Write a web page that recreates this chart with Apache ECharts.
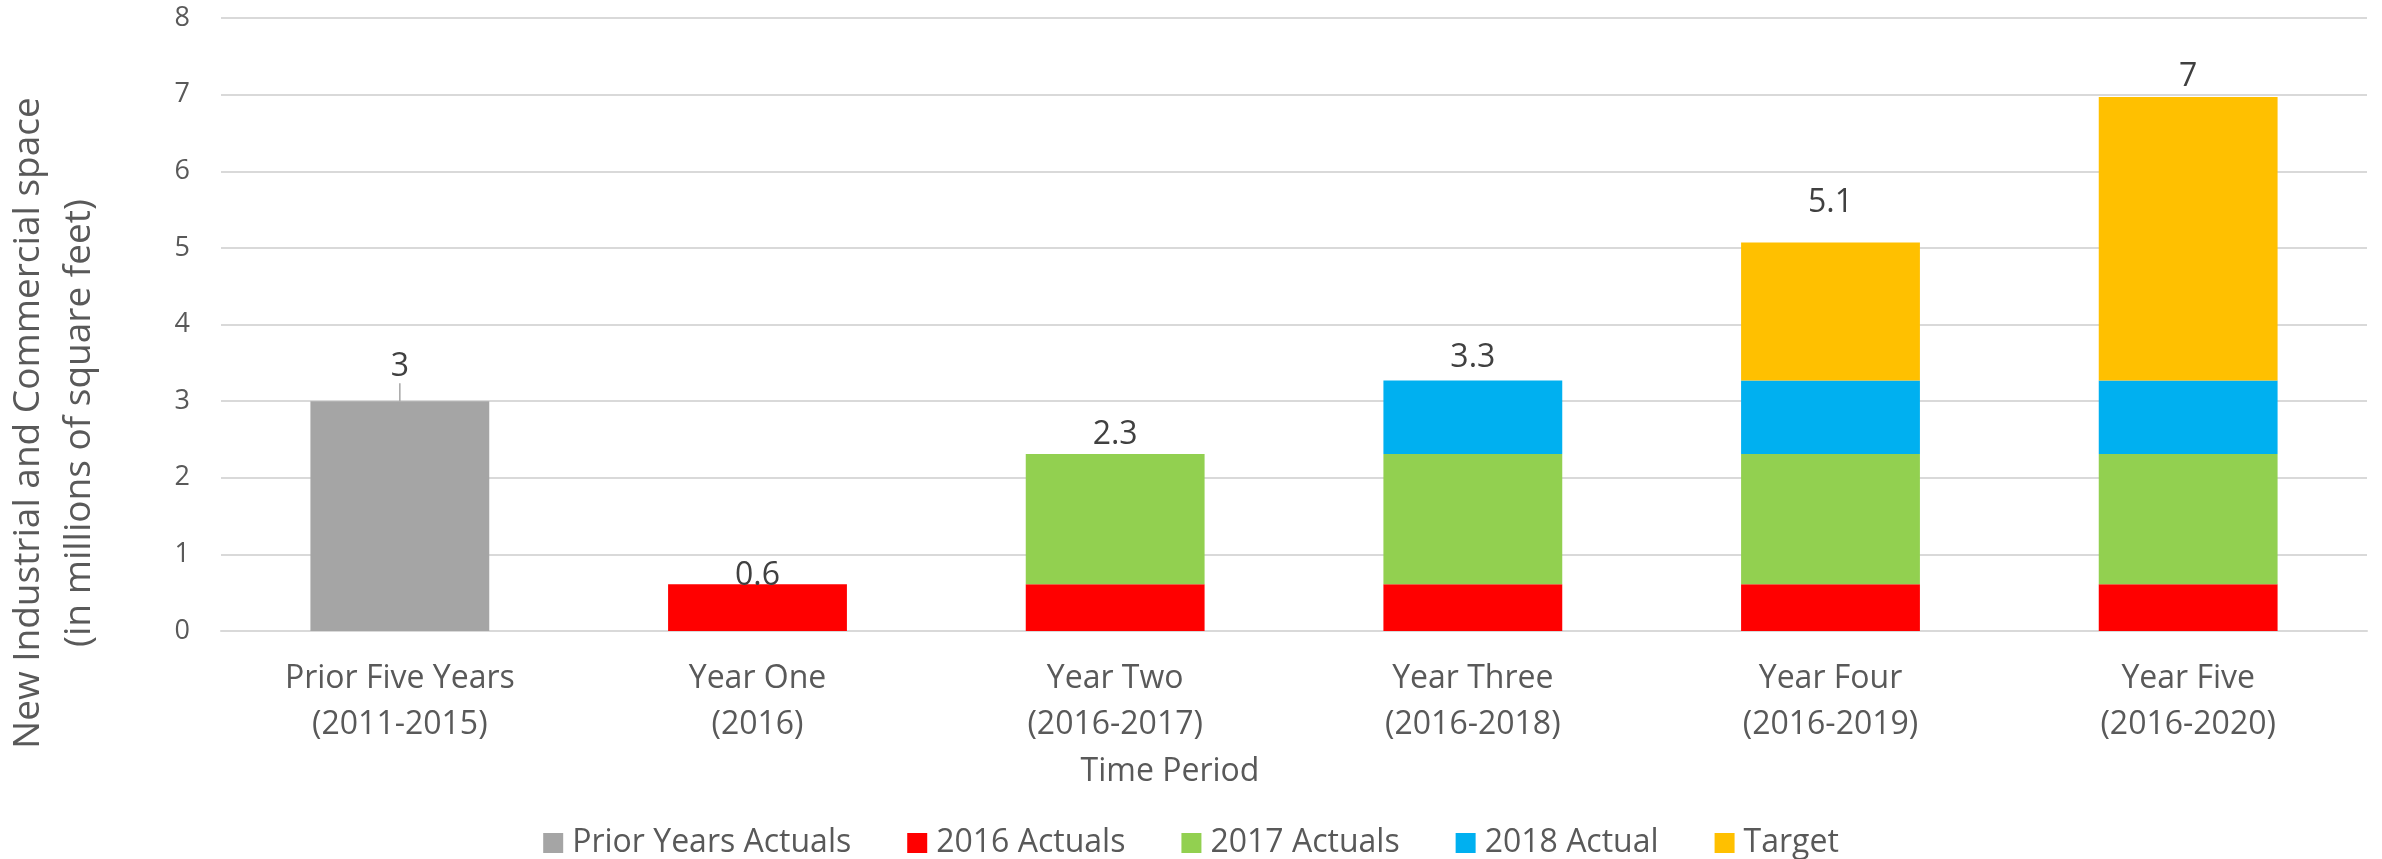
<!DOCTYPE html>
<html>
<head>
<meta charset="utf-8">
<script src="https://cdn.jsdelivr.net/npm/echarts@6/dist/echarts.min.js"></script>
<style>
html,body{margin:0;padding:0;background:#fff;}
#chart{width:2382px;height:859px;}
</style>
</head>
<body>
<div id="chart"></div>
<script>
const categories = ['Prior Five Years\n(2011-2015)', 'Year One\n(2016)', 'Year Two\n(2016-2017)', 'Year Three\n(2016-2018)', 'Year Four\n(2016-2019)', 'Year Five\n(2016-2020)'];
const seriesNames = ['Prior Years Actuals', '2016 Actuals', '2017 Actuals', '2018 Actual', 'Target'];
const priorYearsActuals = [3, null, null, null, null, null];
const actuals2016 = [null, 0.61, 0.61, 0.61, 0.61, 0.61];
const actuals2017 = [null, null, 1.7, 1.7, 1.7, 1.7];
const actual2018 = [null, null, null, 0.96, 0.96, 0.96];
const target = [null, null, null, null, 1.8, 3.7];
const totalLabels = ['3', '0.6', '2.3', '3.3', '5.1', '7'];
const yMin = 0, yMax = 8, yInterval = 1;

// label placement (style only)
const labelDistance = [5, -8, 3, 7, 24, 4];

const colors = ['#A5A5A5', '#FF0000', '#92D050', '#00B0F0', '#FFC000'];
const FONT = '"Open Sans", sans-serif';
const values = [priorYearsActuals, actuals2016, actuals2017, actual2018, target];

const topIdx = categories.map((c, i) => {
  let t = -1;
  values.forEach((v, s) => { if (v[i] != null) t = s; });
  return t;
});

const series = values.map((vals, s) => ({
  name: seriesNames[s],
  type: 'bar',
  stack: 'total',
  barWidth: '50%',
  itemStyle: { color: colors[s] },
  labelLine: { show: s === 0, lineStyle: { color: '#A6A6A6', width: 1.5 } },
  labelLayout: function (p) {
    if (s === 0 && p.dataIndex === 0) return { dy: -13 };
    return {};
  },
  data: vals.map((v, i) => {
    if (v == null) return '-';
    if (topIdx[i] === s) {
      return {
        value: v,
        label: {
          show: true,
          position: 'top',
          distance: labelDistance[i],
          formatter: () => totalLabels[i],
          fontFamily: FONT,
          fontSize: 32,
          color: '#404040'
        }
      };
    }
    return v;
  })
}));

const chart = echarts.init(document.getElementById('chart'));
chart.setOption({
  animation: false,
  backgroundColor: '#ffffff',
  textStyle: { fontFamily: FONT },
  grid: { left: 221, right: 15, top: 18, bottom: 228, containLabel: false },
  legend: {
    data: seriesNames,
    left: 'center',
    top: 822,
    icon: 'rect',
    itemWidth: 20,
    itemHeight: 20,
    itemGap: 56,
    textStyle: { fontFamily: FONT, fontSize: 32, color: '#595959', padding: [0, 0, 0, 4] }
  },
  xAxis: {
    type: 'category',
    data: categories,
    axisLine: { show: true, lineStyle: { color: '#D9D9D9', width: 2 } },
    axisTick: { show: false },
    axisLabel: { fontFamily: FONT, fontSize: 32, color: '#595959', lineHeight: 46, margin: 25, interval: 0 }
  },
  yAxis: {
    type: 'value',
    min: yMin,
    max: yMax,
    interval: yInterval,
    axisLine: { show: false },
    axisTick: { show: false },
    axisLabel: { fontFamily: FONT, fontSize: 27, color: '#595959', margin: 31 },
    splitLine: { lineStyle: { color: '#D9D9D9', width: 2 } }
  },
  graphic: [
    {
      type: 'text',
      x: 54,
      y: 423,
      rotation: Math.PI / 2,
      style: {
        text: 'New Industrial and Commercial space\n(in millions of square feet)',
        font: '37px "Open Sans", sans-serif',
        fill: '#595959',
        align: 'center',
        verticalAlign: 'middle',
        lineHeight: 51
      }
    },
    {
      type: 'text',
      x: 1170,
      y: 772,
      style: {
        text: 'Time Period',
        font: '32px "Open Sans", sans-serif',
        fill: '#595959',
        align: 'center',
        verticalAlign: 'middle'
      }
    }
  ],
  series: series
});
</script>
</body>
</html>
